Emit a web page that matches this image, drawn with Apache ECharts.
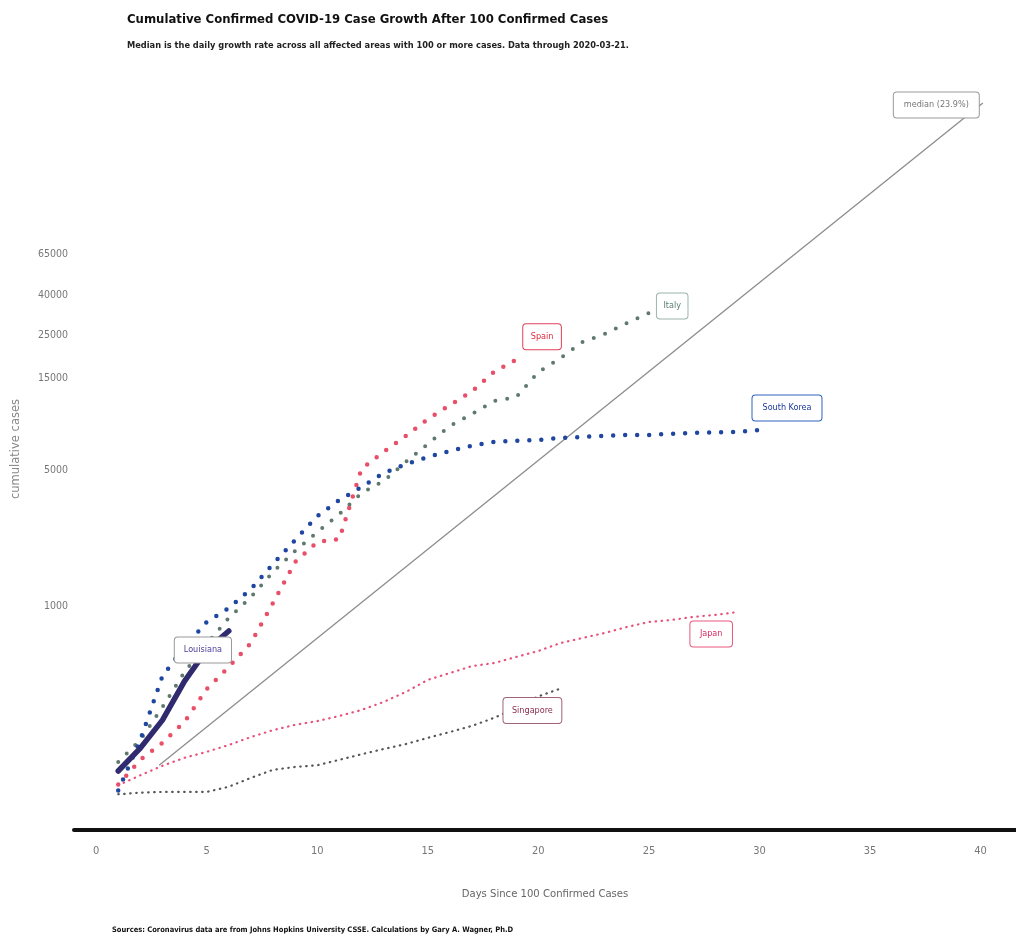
<!DOCTYPE html>
<html>
<head>
<meta charset="utf-8">
<title>Cumulative Confirmed COVID-19 Case Growth</title>
<script src="https://cdn.jsdelivr.net/npm/echarts@6/dist/echarts.min.js"></script>
<style>
html, body { margin: 0; padding: 0; background: #fff; }
#growthChart { width: 1016px; height: 934px; }
</style>
</head>
<body>
<div id="growthChart"></div>
<script>
// tick labels
const xTicks = [0, 5, 10, 15, 20, 25, 30, 35, 40];
const yTicks = [1000, 5000, 15000, 25000, 40000, 65000];

// cumulative cases, day 1 = first day with 100+ cases
const italy = [157, 204, 301, 457, 637, 867, 1113, 1496, 1921, 2404, 2978, 3818, 4406, 5520, 6840,
    8470, 9770, 11400, 11940, 16070, 18970, 22950, 25240, 28760, 32390];
const spain = [120, 161, 197, 253, 373, 485, 644, 1036, 1685, 2137, 2214, 5080, 6230, 7520, 9200,
    10850, 12780, 16100, 18600];
const southKorea = [112, 204, 435, 615, 827, 976, 1224, 1646, 2188, 2904, 3517, 4100, 4840, 5385, 5860,
    6300, 6690, 7020, 7110, 7170, 7350, 7440, 7530, 7620, 7620, 7710, 7800, 7850, 7900, 8076];
const japan = [119, 134, 150, 165, 177, 192, 211, 229, 244, 255, 271, 291, 320, 360, 416,
    451, 490, 508, 546, 586, 644, 684, 726, 779, 827, 847, 878, 899, 931];
const singapore = [107, 109, 110, 110, 110, 117, 130, 143, 148, 151, 161, 172, 183, 194, 209,
    224, 241, 265, 298, 342, 375];
const louisiana = [141, 185, 258, 410, 593, 743];

// median growth line (23.9% a day), drawn between two read points
const medianDays = [2.85, 40.1];
const medianCases = [151, 392000];

const narrow = "'Liberation Sans Narrow', 'DejaVu Sans Condensed', 'Liberation Sans', sans-serif";

function toPoints(values) {
    return values.map((v, i) => [i + 1, v]);
}

function tag(text, color, border, offset, padX) {
    return {
        show: true,
        formatter: text,
        distance: 0,
        offset: offset,
        color: color,
        fontFamily: narrow,
        fontSize: 9,
        backgroundColor: "#fff",
        borderColor: border,
        borderWidth: 1,
        borderRadius: 3,
        padding: [8, padX],
    };
}

function dotted(name, values, color, width, dash, label) {
    return {
        name: name,
        type: "line",
        data: toPoints(values),
        showSymbol: false,
        silent: true,
        color: color,
        lineStyle: { color: color, width: width, type: dash, cap: "round" },
        endLabel: label,
    };
}

const chartOption = {
    animation: false,
    textStyle: { fontFamily: narrow },
    title: [
        {
            text: "Cumulative Confirmed COVID-19 Case Growth After 100 Confirmed Cases",
            subtext: "Median is the daily growth rate across all affected areas with 100 or more cases. Data through 2020-03-21.",
            left: 122,
            top: 8,
            itemGap: 15,
            textStyle: { fontSize: 13, fontWeight: "bold", color: "#111", fontFamily: narrow },
            subtextStyle: { fontSize: 9.2, fontWeight: "bold", color: "#222", fontFamily: narrow },
        },
        {
            text: "Sources: Coronavirus data are from Johns Hopkins University CSSE. Calculations by Gary A. Wagner, Ph.D",
            left: 107,
            top: 921,
            textStyle: { fontSize: 7.5, fontWeight: "bold", color: "#111", fontFamily: narrow },
        },
    ],
    grid: { left: 74, right: 0, top: 90, bottom: 104 },
    xAxis: {
        type: "value",
        min: -1,
        max: 41.6,
        name: "Days Since 100 Confirmed Cases",
        nameLocation: "middle",
        nameGap: 59,
        nameTextStyle: { color: "#666", fontSize: 11.2, fontFamily: narrow },
        axisLine: { onZero: false, lineStyle: { color: "#111", width: 4 } },
        axisTick: { show: false },
        splitLine: { show: false },
        axisLabel: { customValues: xTicks, color: "#777", fontSize: 11, margin: 16 },
    },
    yAxis: {
        type: "log",
        min: 70,
        max: 457000,
        name: "cumulative cases",
        nameLocation: "middle",
        nameGap: 52,
        nameTextStyle: { color: "#888", fontSize: 11.5, fontFamily: "'DejaVu Sans', sans-serif", padding: [0, 0, 0, 22] },
        axisLine: { show: false },
        axisTick: { show: false },
        splitLine: { show: false },
        axisLabel: { show: false },
    },
    series: [
        {
            name: "median",
            type: "line",
            data: medianDays.map((d, i) => [d, medianCases[i]]),
            showSymbol: false,
            silent: true,
            color: "#8c8c8c",
            lineStyle: { color: "#8c8c8c", width: 1.3 },
            endLabel: tag("median (23.9%)", "#777", "#999", [-89, 2], 10),
            markLine: {
                silent: true,
                symbol: "none",
                lineStyle: { color: "rgba(0,0,0,0)", width: 1 },
                label: { position: "start", distance: 6, color: "#777", fontSize: 10.5, formatter: "{c}" },
                data: yTicks.map((v) => ({ yAxis: v })),
            },
        },
        dotted("Italy", italy, "#5f7a6c", 4, [0, 12], tag("Italy", "#5a7e72", "#9bb3ab", [8, -7], 6.5)),
        dotted("Spain", spain, "#e8506a", 4.5, [0, 12], tag("Spain", "#e0283e", "#e04058", [7, -23], 7.5)),
        dotted("South Korea", southKorea, "#1f46a0", 4.5, [0, 12], tag("South Korea", "#1a3a9a", "#2e62c2", [-7, -22], 10)),
        dotted("Japan", japan, "#e8507a", 2.2, [0.5, 5.5], tag("Japan", "#dc2a62", "#e8587c", [-47, 22], 9.5)),
        dotted("Singapore", singapore, "#555555", 2.2, [0.5, 5.5], tag("Singapore", "#8a2c4c", "#a06478", [-57, 22], 8.5)),
        {
            name: "Louisiana",
            type: "line",
            data: toPoints(louisiana),
            showSymbol: false,
            silent: true,
            color: "#2f2b6e",
            lineStyle: { color: "#2f2b6e", width: 5.5, cap: "round" },
            endLabel: tag("Louisiana", "#4b3f9a", "#999", [-54, 19], 9),
        },
    ],
};

const myChart = echarts.init(document.getElementById("growthChart"));
myChart.setOption(chartOption);
window.onresize = () => myChart.resize();
</script>
</body>
</html>
